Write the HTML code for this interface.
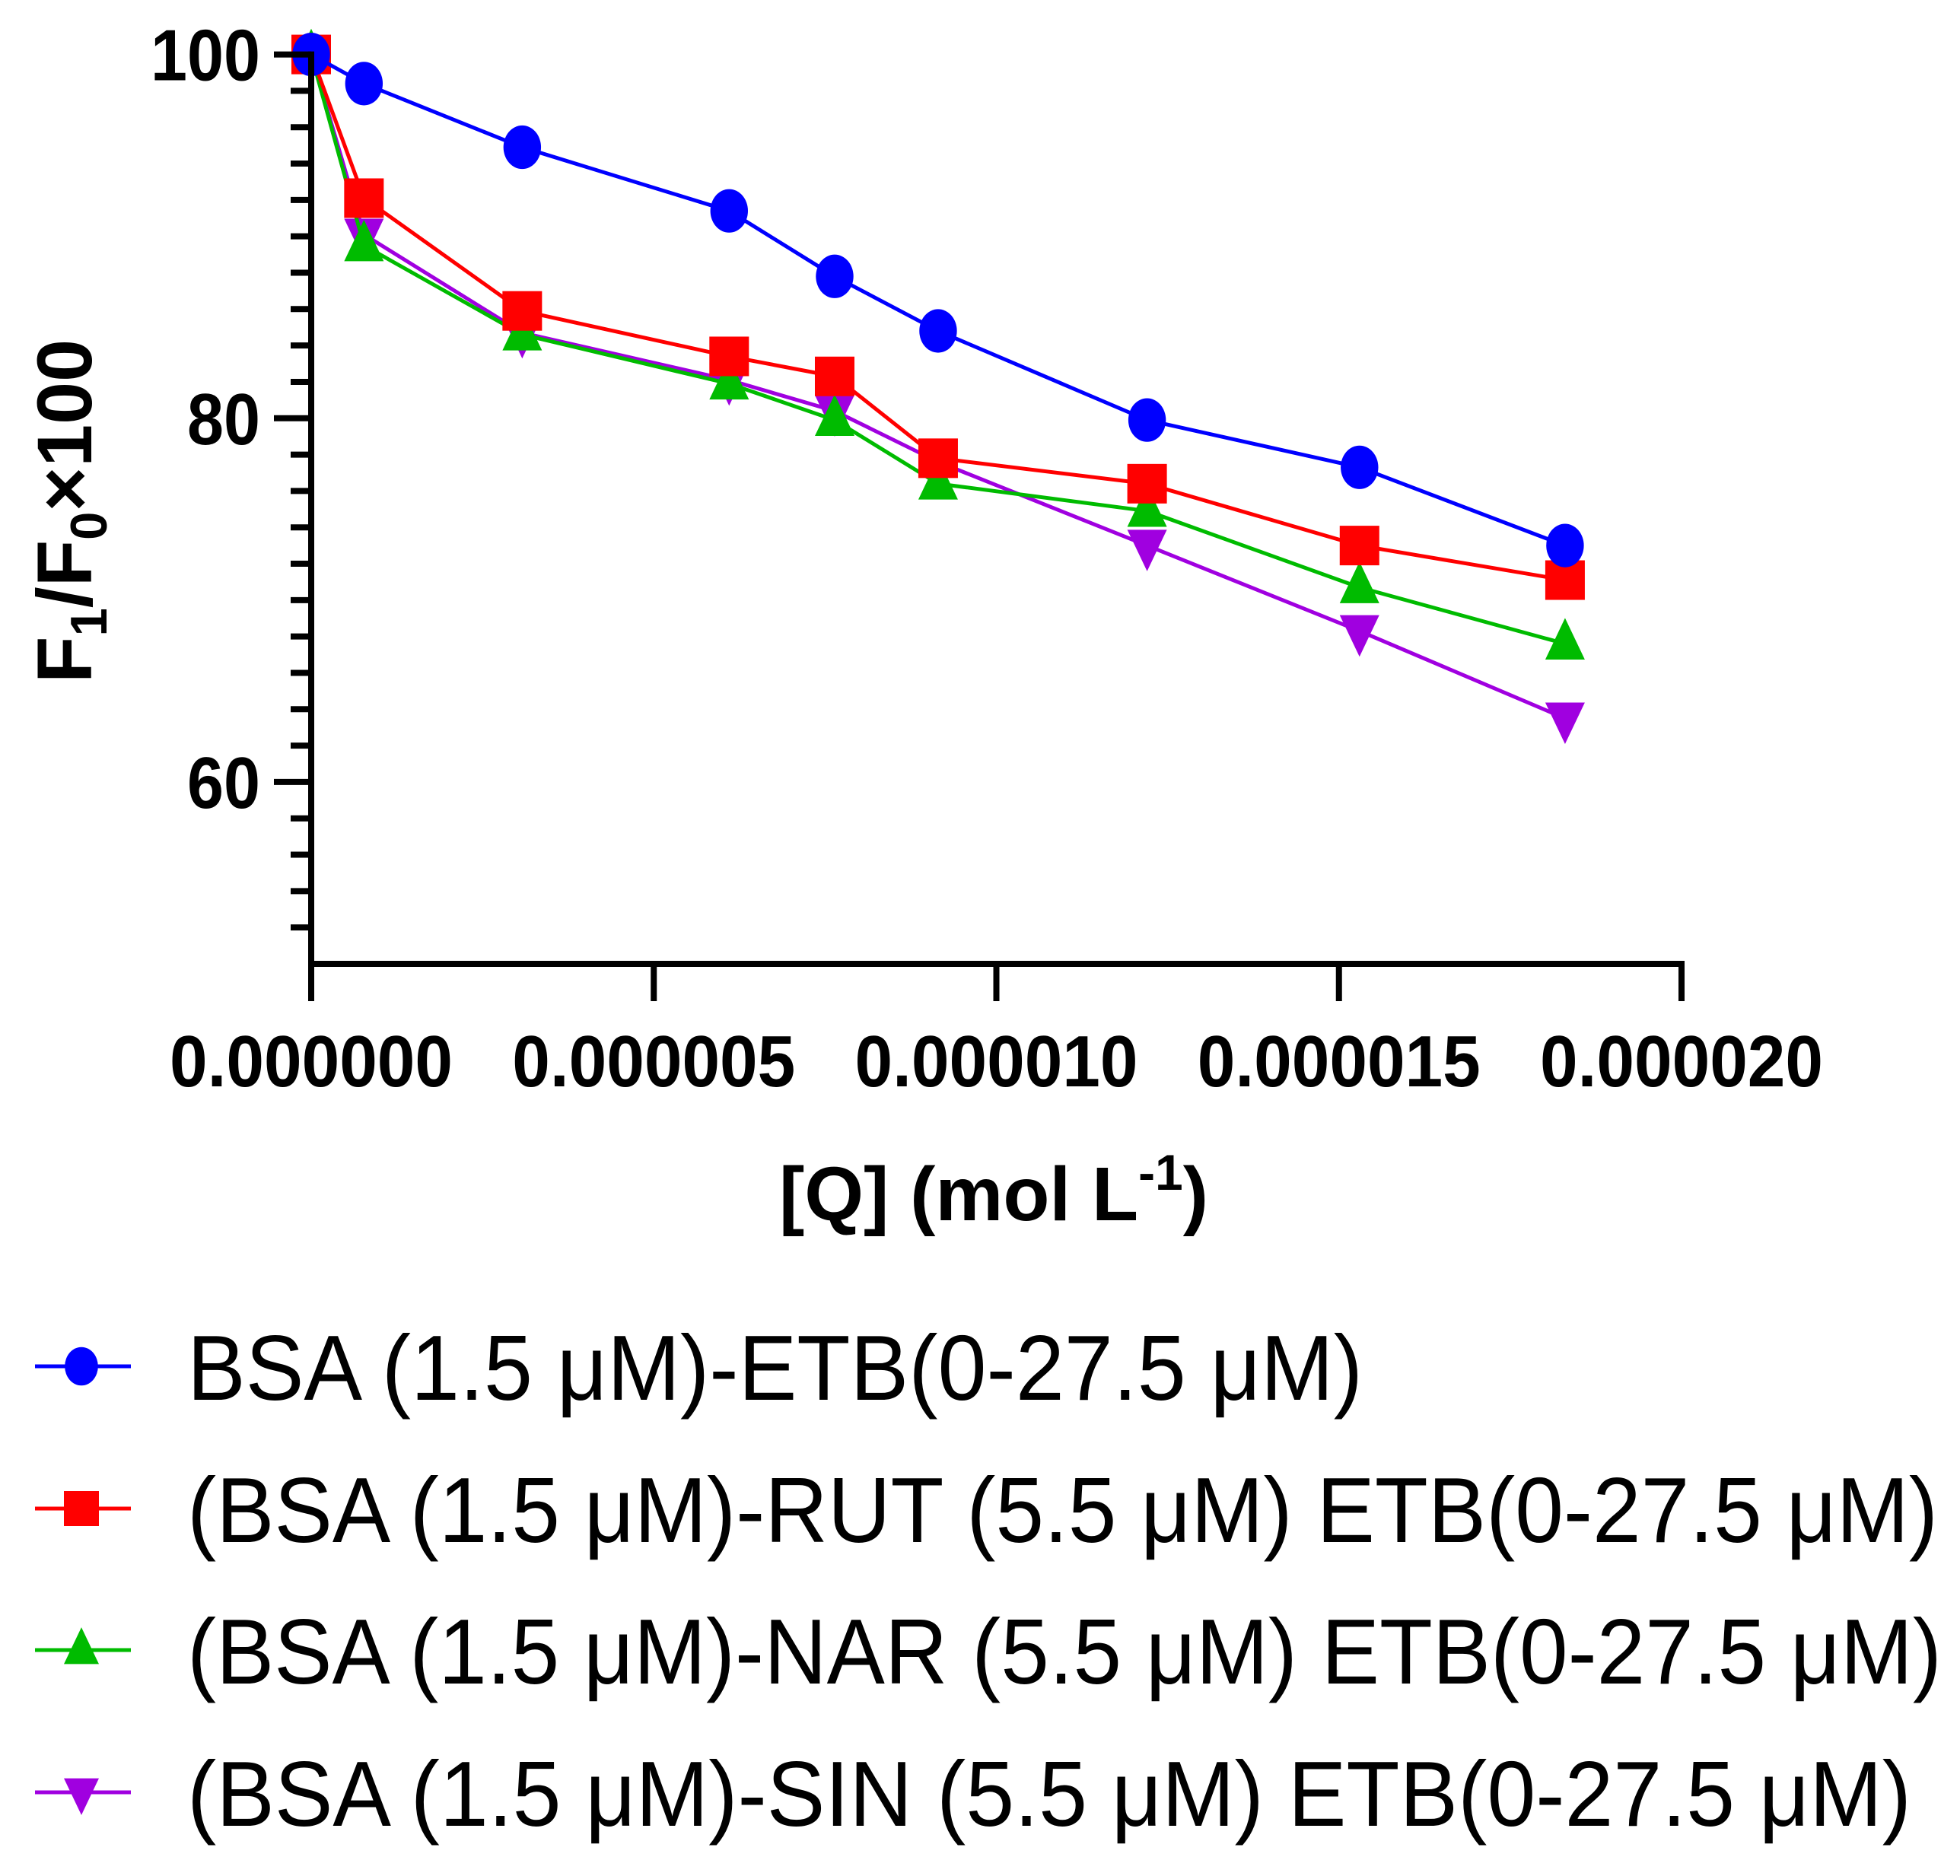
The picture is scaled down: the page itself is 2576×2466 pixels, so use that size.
<!DOCTYPE html>
<html><head><meta charset="utf-8"><style>
html,body{margin:0;padding:0;background:#fff;}
svg{display:block;}
text{font-family:"Liberation Sans",sans-serif;}
</style></head><body>
<svg id="chart" width="2576" height="2466" viewBox="0 0 2576 2466" xmlns="http://www.w3.org/2000/svg">
<g id="plot"></g>
<g id="axes"></g>
<text transform="translate(120,672) rotate(-90)" text-anchor="middle" font-weight="bold" font-size="102" textLength="452" lengthAdjust="spacingAndGlyphs">F<tspan font-size="68" dy="20">1</tspan><tspan dy="-20">/F</tspan><tspan font-size="68" dy="20">0</tspan><tspan dy="-20">×100</tspan></text>
<text x="1306" y="1604" text-anchor="middle" font-weight="bold" font-size="100">[Q] (mol L<tspan font-size="66" dy="-40">-1</tspan><tspan dy="40">)</tspan></text>
<g id="legend"></g>
</svg>
<script>
const xValues = [0, 0.77e-6, 3.08e-6, 6.1e-6, 7.64e-6, 9.15e-6, 12.2e-6, 15.3e-6, 18.3e-6];
const seriesBSA = [100, 98.4, 94.9, 91.4, 87.8, 84.8, 79.9, 77.3, 73.0];
const seriesRUT = [100, 92.1, 85.9, 83.4, 82.3, 77.8, 76.4, 73.0, 71.1];
const seriesNAR = [100, 89.5, 84.6, 81.9, 79.9, 76.4, 74.9, 70.7, 67.6];
const seriesSIN = [100, 90.1, 84.7, 82.1, 80.4, 77.6, 73.0, 68.3, 63.5];
const seriesNames = ["BSA (1.5 μM)-ETB(0-27.5 μM)", "(BSA (1.5 μM)-RUT (5.5 μM) ETB(0-27.5 μM)", "(BSA (1.5 μM)-NAR (5.5 μM) ETB(0-27.5 μM)", "(BSA (1.5 μM)-SIN (5.5 μM) ETB(0-27.5 μM)"];
const xTicks = [0, 5e-6, 10e-6, 15e-6, 20e-6];
const xTickLabels = ["0.000000", "0.000005", "0.000010", "0.000015", "0.000020"];
const yTicks = [60, 80, 100];
const yTickLabels = ["60", "80", "100"];

const NS = "http://www.w3.org/2000/svg";
const X0 = 409, X1 = 2210, Y0 = 1267, Y1 = 71.6;
const yMin = 50, yMax = 100;
const xs = v => X0 + (v / 20e-6) * (X1 - X0);
const ys = v => Y0 - (v - yMin) / (yMax - yMin) * (Y0 - Y1);
function mk(tag, attrs, parent) { const e = document.createElementNS(NS, tag); for (const k in attrs) e.setAttribute(k, attrs[k]); parent.appendChild(e); return e; }

const axes = document.getElementById("axes");
const yAxis = mk("line", {x1: X0, y1: Y0 + 4, x2: X0, y2: ys(100) - 4, stroke: "#000", "stroke-width": 8}, axes);


const xAxis = mk("line", {x1: X0 - 4, y1: Y0, x2: X1 + 4, y2: Y0, stroke: "#000", "stroke-width": 8}, axes);


for (let v = 52; v <= 98; v += 2) {
  if (yTicks.includes(v)) continue;
  const t = mk("line", {x1: X0 - 27, x2: X0, y1: ys(v), y2: ys(v), stroke: "#000", "stroke-width": 8}, axes);
  
  
}
yTicks.forEach((v, i) => {
  const t = mk("line", {x1: X0 - 49, x2: X0, y1: ys(v), y2: ys(v), stroke: "#000", "stroke-width": 8}, axes);
  
  
  const l = mk("text", {x: 342, y: ys(v) + 34, "text-anchor": "end", "font-weight": "bold", "font-size": 96, textLength: yTickLabels[i].length * 48, lengthAdjust: "spacingAndGlyphs"}, axes);
  l.textContent = yTickLabels[i];
  
  
});
xTicks.forEach((v, i) => {
  const t = mk("line", {x1: xs(v), x2: xs(v), y1: Y0, y2: Y0 + 49, stroke: "#000", "stroke-width": 8}, axes);
  
  
  const l = mk("text", {x: xs(v), y: 1428, "text-anchor": "middle", "font-weight": "bold", "font-size": 96, textLength: 372, lengthAdjust: "spacingAndGlyphs"}, axes);
  l.textContent = xTickLabels[i];
  
  
});

const colors = ["#0000ff", "#ff0000", "#00bb00", "#a000e0"];
const shapes = ["circle", "square", "up", "down"];
const allSeries = [seriesBSA, seriesRUT, seriesNAR, seriesSIN];
function marker(shape, cx, cy, col, parent, s) {
  if (shape === "circle") return mk("ellipse", {cx: cx, cy: cy, rx: s * 0.95, ry: s * 1.1, fill: col}, parent);
  if (shape === "square") return mk("rect", {x: cx - s, y: cy - s, width: 2 * s, height: 2 * s, fill: col}, parent);
  if (shape === "up") return mk("polygon", {points: `${cx},${cy - s * 1.3} ${cx - s},${cy + s * 0.8} ${cx + s},${cy + s * 0.8}`, fill: col}, parent);
  return mk("polygon", {points: `${cx},${cy + s * 1.3} ${cx - s},${cy - s * 0.8} ${cx + s},${cy - s * 0.8}`, fill: col}, parent);
}
const plot = document.getElementById("plot");
const order = [3, 2, 1, 0];
order.forEach(si => {
  const data = allSeries[si];
  const g = mk("g", {}, plot);
  
  
  const pl = mk("polyline", {points: data.map((v, i) => xs(xValues[i]) + "," + ys(v)).join(" "), fill: "none", stroke: colors[si], "stroke-width": 5}, g);
  
  
  data.forEach((v, i) => {
    const m = marker(shapes[si], xs(xValues[i]), ys(v), colors[si], g, 26);
    
    
  });
});

const legend = document.getElementById("legend");
const rowY = [1796, 1983, 2169, 2356];
const rowW = [1545, 2301, 2306, 2266];
seriesNames.forEach((name, i) => {
  const g = mk("g", {}, legend);
  
  
  const ln = mk("line", {x1: 46, x2: 172, y1: rowY[i], y2: rowY[i], stroke: colors[i], "stroke-width": 5}, g);
  
  
  const m = marker(shapes[i], 107, rowY[i], colors[i], g, 23);
  
  
  const t = mk("text", {x: 246, y: rowY[i] + 44, "font-size": 122, textLength: rowW[i], lengthAdjust: "spacingAndGlyphs"}, g);
  t.textContent = name;
  
  
});
</script>
</body></html>
